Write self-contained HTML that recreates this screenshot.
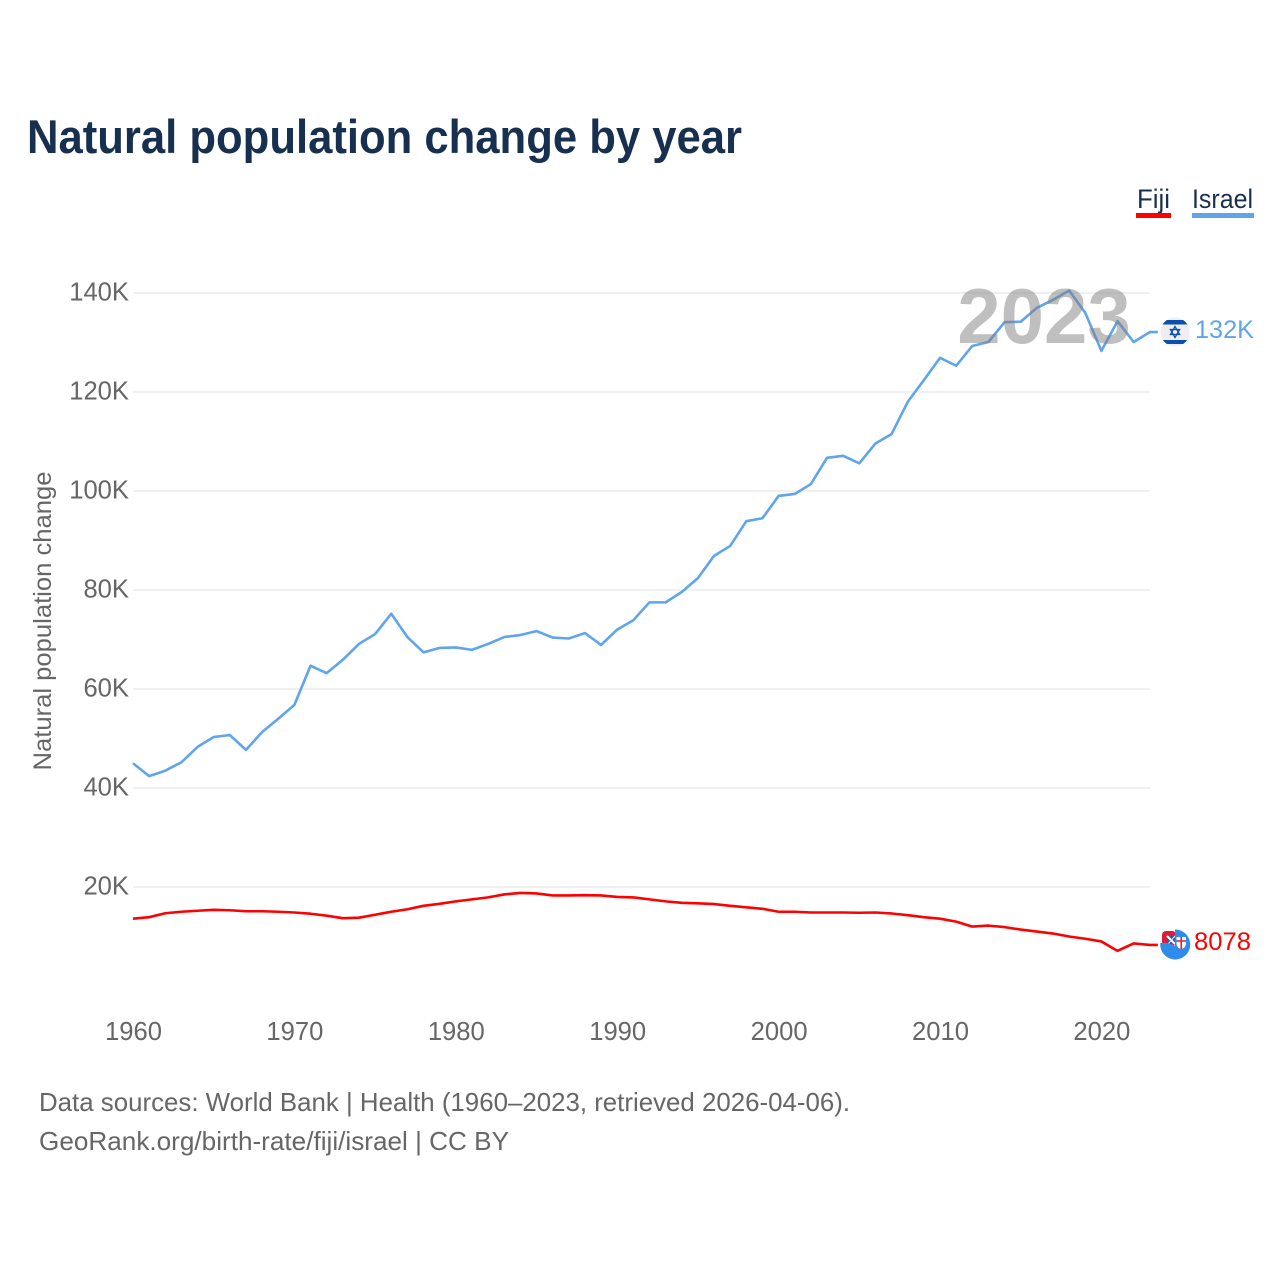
<!DOCTYPE html>
<html lang="en">
<head>
<meta charset="utf-8">
<title>Natural population change by year</title>
<style>
html,body{margin:0;padding:0;background:#fff;width:1280px;height:1280px;overflow:hidden}
svg{display:block}
text{font-family:"Liberation Sans",sans-serif}
</style>
</head>
<body>
<svg id="chart" width="1280" height="1280" viewBox="0 0 1280 1280" xmlns="http://www.w3.org/2000/svg">
  <rect width="1280" height="1280" fill="#fff"/>
  <text x="27" y="153" font-size="47" font-weight="700" fill="#18304f" textLength="715" lengthAdjust="spacingAndGlyphs">Natural population change by year</text>

  <g>
    <text x="1137" y="208" font-size="27" fill="#18304f" textLength="33" lengthAdjust="spacingAndGlyphs">Fiji</text>
    <rect x="1136" y="213" width="35" height="5" fill="#ff0000"/>
  </g>
  <g>
    <text x="1192" y="208" font-size="27" fill="#18304f" textLength="61" lengthAdjust="spacingAndGlyphs">Israel</text>
    <rect x="1192" y="213" width="62" height="5" fill="#60a5ec"/>
  </g>

  <g id="grid"></g>
  <g id="yticks"></g>
  <g id="xticks"></g>
  <text transform="translate(51 621) rotate(-90)" text-anchor="middle" font-size="25" fill="#666" textLength="299" lengthAdjust="spacingAndGlyphs">Natural population change</text>

  <g id="series"></g>

  <text id="year-label" x="1044" y="343" text-anchor="middle" font-size="78" font-weight="700" fill="#808080" fill-opacity="0.5">2023</text>

  <g id="flag-israel">
    <clipPath id="clip-il"><circle cx="1175" cy="332" r="14.5"/></clipPath>
    <g clip-path="url(#clip-il)">
      <rect x="1160" y="317" width="30" height="30" fill="#eeeeee"/>
      <rect x="1160" y="320" width="30" height="4.5" fill="#0b4fb0"/>
      <rect x="1160" y="340" width="30" height="4" fill="#0b4fb0"/>
      <path d="M1175 326.500l4.600 8h-9.200z M1175 337.500l-4.600-8h9.200z" fill="none" stroke="#0b4fb0" stroke-width="1.300"/>
    </g>
  </g>
  <text id="value-israel" x="1195" y="338" font-size="25" fill="#60a5ec" textLength="59" lengthAdjust="spacingAndGlyphs">132K</text>

  <g id="flag-fiji">
    <rect x="1162" y="931" width="14" height="15" rx="4" fill="#d81e3a"/>
    <rect x="1167" y="936" width="8" height="8" fill="#2b5aa8"/>
    <path d="M1167 936l8 8" stroke="#fff" stroke-width="2"/>
    <path d="M1168 944l7-8" stroke="#e8e8f0" stroke-width="1"/>
    <path d="M1175 929.500A15 15 0 1 1 1160.300 943Q1168 942 1175 946Z" fill="#2f8cea"/>
    <path d="M1176.500 937h9.500v7q-0.500 4 -4.750 5q-4.250 -1 -4.750 -5z" fill="#fff"/>
    <path d="M1181.250 937v12M1176.500 941h9.500" stroke="#d81e3a" stroke-width="1.600"/>
  </g>
  <text id="value-fiji" x="1194" y="950" font-size="25" fill="#ff0000" textLength="57" lengthAdjust="spacingAndGlyphs">8078</text>

  <g>
    <text x="39" y="1111" font-size="26" fill="#666" textLength="811" lengthAdjust="spacingAndGlyphs">Data sources: World Bank | Health (1960–2023, retrieved 2026-04-06).</text>
    <text x="39" y="1150" font-size="26" fill="#666" textLength="470" lengthAdjust="spacingAndGlyphs">GeoRank.org/birth-rate/fiji/israel | CC BY</text>
  </g>
</svg>
<script>
const firstYear = 1960;
const yTickValues = [20000, 40000, 60000, 80000, 100000, 120000, 140000];
const yTickLabels = ['20K', '40K', '60K', '80K', '100K', '120K', '140K'];
const xTickYears = [1960, 1970, 1980, 1990, 2000, 2010, 2020];
const israelValues = [
  45000, 42400, 43500, 45200, 48300, 50300, 50700, 47700, 51300, 54000,
  56800, 64700, 63200, 65900, 69100, 71100, 75200, 70500, 67400, 68300,
  68400, 67900, 69100, 70500, 70900, 71700, 70400, 70200, 71300, 68900,
  72000, 73900, 77500, 77500, 79600, 82400, 86900, 88900, 93900, 94500,
  99000, 99400, 101400, 106700, 107100, 105600, 109600, 111500, 118000, 122400,
  126900, 125300, 129300, 130100, 134100, 134200, 137000, 138600, 140500, 136000,
  128300, 134300, 130100, 132100
];
const fijiValues = [
  13600, 13900, 14700, 15000, 15200, 15400, 15300, 15100, 15100, 15000,
  14850, 14600, 14200, 13700, 13800, 14400, 15000, 15500, 16200, 16600,
  17100, 17500, 17900, 18500, 18800, 18700, 18300, 18300, 18350, 18300,
  18000, 17900, 17500, 17100, 16800, 16700, 16550, 16200, 15900, 15600,
  15000, 15000, 14850, 14850, 14850, 14800, 14850, 14650, 14300, 13900,
  13600, 13000, 12000, 12200, 11900, 11400, 11000, 10600, 10000, 9550,
  9000, 7100, 8600, 8300
];

const NS = 'http://www.w3.org/2000/svg';
function xScale(year) { return 133 + (year - 1960) * 16.14; }
function yScale(value) { return 986 - value * 0.00495; }
function make(tag, attrs, parent) {
  const el = document.createElementNS(NS, tag);
  for (const k in attrs) el.setAttribute(k, attrs[k]);
  parent.appendChild(el);
  return el;
}
const lastX = xScale(firstYear + israelValues.length - 1);

const grid = document.getElementById('grid');
const yticks = document.getElementById('yticks');
yTickValues.forEach(function (v, i) {
  const line = make('line', {x1: 133, x2: 1150, y1: yScale(v), y2: yScale(v), stroke: '#ececec', 'stroke-width': 1.5}, grid);
  
  
  const t = make('text', {x: 129, y: yScale(v) + 7.5, 'text-anchor': 'end', 'font-size': 25.6, fill: '#666'}, yticks);
  t.textContent = yTickLabels[i];
  
  
});

const xticks = document.getElementById('xticks');
xTickYears.forEach(function (y) {
  const t = make('text', {x: xScale(y) + 0.5, y: 1040, 'text-anchor': 'middle', 'font-size': 25.6, fill: '#666'}, xticks);
  t.textContent = y;
  
  
});

const series = document.getElementById('series');
function drawSeries(values, color) {
  const pts = values.map(function (v, i) { return xScale(firstYear + i).toFixed(2) + ',' + yScale(v).toFixed(2); });
  const endY = yScale(values[values.length - 1]).toFixed(2);
  pts.push((lastX + 8).toFixed(2) + ',' + endY);
  return make('polyline', {points: pts.join(' '), fill: 'none', stroke: color, 'stroke-width': 2.6, 'stroke-linejoin': 'round'}, series);
}
const israelLine = drawSeries(israelValues, '#60a5ec');


const fijiLine = drawSeries(fijiValues, '#ff0000');


</script>
</body>
</html>
